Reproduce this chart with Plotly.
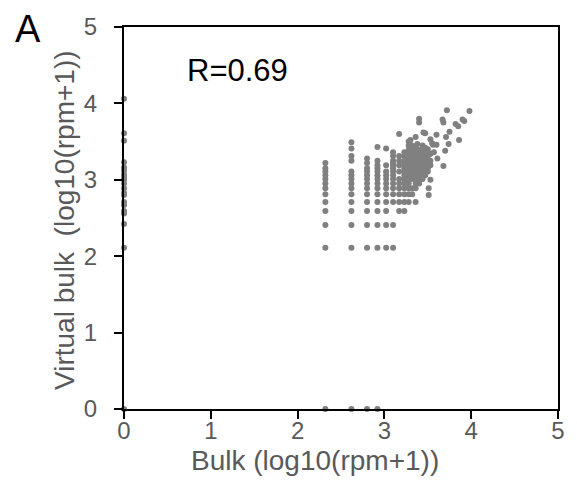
import plotly.graph_objects as go

# ---- data (log10(rpm+1)) ----
# genes detected only in virtual bulk (bulk = 0)
zero_bulk_y = [4.06, 3.61, 3.51, 3.23, 3.16, 3.12, 3.07, 3.03, 3.00, 2.95,
               2.89, 2.83, 2.80, 2.71, 2.67, 2.59, 2.56, 2.42, 2.11]
# genes detected only in bulk (virtual = 0)
zero_virtual_x = [0, 2.32, 2.62, 2.80, 2.92]

# discrete bulk levels and the virtual-bulk values found at each
col_x = [2.32, 2.62, 2.80, 2.92, 3.02, 3.10, 3.17, 3.23, 3.28, 3.32, 3.36, 3.40, 3.44, 3.47, 3.50, 3.53]
col_y = [
    [2.11, 2.41, 2.59, 2.71, 2.81, 2.89, 2.95, 3.01, 3.06, 3.11, 3.15, 3.22],
    [2.11, 2.41, 2.59, 2.71, 2.81, 2.89, 2.95, 3.01, 3.06, 3.11, 3.25, 3.31, 3.41, 3.49],
    [2.11, 2.41, 2.59, 2.71, 2.81, 2.89, 2.95, 3.01, 3.06, 3.11, 3.15, 3.22, 3.28],
    [2.11, 2.41, 2.59, 2.71, 2.81, 2.89, 2.95, 3.01, 3.06, 3.11, 3.15, 3.19, 3.25, 3.43],
    [2.11, 2.41, 2.59, 2.71, 2.81, 2.89, 2.95, 3.01, 3.06, 3.11, 3.19, 3.41],
    [2.11, 2.41, 2.71, 2.81, 2.89, 2.95, 3.01, 3.06, 3.11, 3.15, 3.19, 3.22, 3.25, 3.31, 3.36],
    [2.59, 2.71, 2.81, 2.89, 2.95, 3.01, 3.11, 3.19, 3.25, 3.31],
    [2.59, 2.71, 2.81, 2.89, 2.95, 3.01, 3.06, 3.11, 3.15, 3.19, 3.22, 3.25, 3.31, 3.36],
    [2.71, 2.81, 2.89, 2.95, 3.01, 3.06, 3.11, 3.15, 3.19, 3.22, 3.25, 3.28, 3.34, 3.39, 3.45],
    [2.81, 2.89, 3.01, 3.06, 3.11, 3.15, 3.19, 3.22, 3.25, 3.28, 3.31, 3.36, 3.41, 3.45],
    [2.71, 2.89, 2.95, 3.01, 3.06, 3.11, 3.15, 3.19, 3.22, 3.25, 3.31, 3.36, 3.43],
    [2.95, 3.01, 3.06, 3.11, 3.15, 3.19, 3.22, 3.25, 3.28, 3.34, 3.39],
    [3.01, 3.06, 3.11, 3.15, 3.19, 3.22, 3.25, 3.31, 3.36],
    [3.06, 3.11, 3.15, 3.19, 3.25, 3.31],
    [3.11, 3.15, 3.19, 3.22, 3.28, 3.36],
    [3.19, 3.25, 3.34],
]
# scattered higher-expression genes
sparse_x = [3.98, 3.72, 3.92, 3.90, 3.85, 3.82, 3.67, 3.68, 3.40, 3.40, 3.75, 3.71,
            3.86, 3.74, 3.60, 3.70, 3.61, 3.68, 3.45, 3.47, 3.17, 3.36, 3.28, 3.30,
            3.53, 3.55, 3.56, 3.60, 3.53, 3.51, 3.53, 3.51, 3.51, 3.42,
            3.44, 3.47, 3.38, 3.50, 3.57, 3.45]
sparse_y = [3.90, 3.91, 3.77, 3.79, 3.70, 3.73, 3.79, 3.75, 3.80, 3.75, 3.63, 3.56,
            3.52, 3.47, 3.59, 3.38, 3.28, 3.18, 3.62, 3.61, 3.60, 3.56, 3.50, 3.52,
            3.53, 3.48, 3.46, 3.46, 3.34, 3.19, 3.00, 2.89, 2.80, 3.01,
            3.45, 3.42, 3.47, 3.40, 3.36, 3.38]

tick_vals = [0, 1, 2, 3, 4, 5]
r_label = "R=0.69"

# ---- assemble ----
xs, ys = [], []
for v in zero_bulk_y:
    xs.append(0); ys.append(v)
for v in zero_virtual_x:
    xs.append(v); ys.append(0)
for cx, cy in zip(col_x, col_y):
    for v in cy:
        xs.append(cx); ys.append(v)
xs += sparse_x
ys += sparse_y

FONT = "Liberation Sans, Arial, sans-serif"
GRAY_TXT = "#595959"

fig = go.Figure(go.Scatter(
    x=xs, y=ys, mode="markers",
    marker=dict(size=6, color="#808080", line=dict(width=0)),
    cliponaxis=False, hoverinfo="skip", showlegend=False,
))

axis_common = dict(
    range=[0, 5], tickvals=tick_vals, showgrid=False, zeroline=False,
    showline=True, linecolor="black", linewidth=2, mirror=True,
    ticks="outside", ticklen=8, tickwidth=2, tickcolor="black",
    tickfont=dict(family=FONT, size=24, color=GRAY_TXT),
)
fig.update_xaxes(**axis_common, ticklabelstandoff=-9)
fig.update_yaxes(**axis_common, ticklabelstandoff=12)

W, H = 577, 490
L, R, T, B = 124, 12, 27, 81
pw, ph = W - L - R, H - T - B

def px(x):
    return (x - L) / pw

def py(y):
    return (H - B - y) / ph

fig.update_layout(
    width=W, height=H,
    margin=dict(l=L, r=R, t=T, b=B, pad=0),
    paper_bgcolor="white", plot_bgcolor="white",
    font=dict(family=FONT),
    annotations=[
        dict(text="A", xref="paper", yref="paper", x=px(11), y=py(29),
             xanchor="left", yanchor="middle", showarrow=False,
             font=dict(family=FONT, size=38, color="black")),
        dict(text=r_label, xref="paper", yref="paper", x=px(186), y=py(70),
             xanchor="left", yanchor="middle", showarrow=False,
             font=dict(family=FONT, size=31, color="black")),
        dict(text="Bulk (log10(rpm+1))", xref="paper", yref="paper",
             x=px(318), y=py(460), xanchor="center", yanchor="middle",
             showarrow=False, bgcolor="white",
             font=dict(family=FONT, size=28, color=GRAY_TXT)),
        dict(text="Virtual bulk  (log10(rpm+1))", xref="paper", yref="paper",
             x=px(64), y=py(220), xanchor="center", yanchor="middle",
             textangle=-90, showarrow=False,
             font=dict(family=FONT, size=28, color=GRAY_TXT)),
    ],
)

fig.write_html("out.html")
